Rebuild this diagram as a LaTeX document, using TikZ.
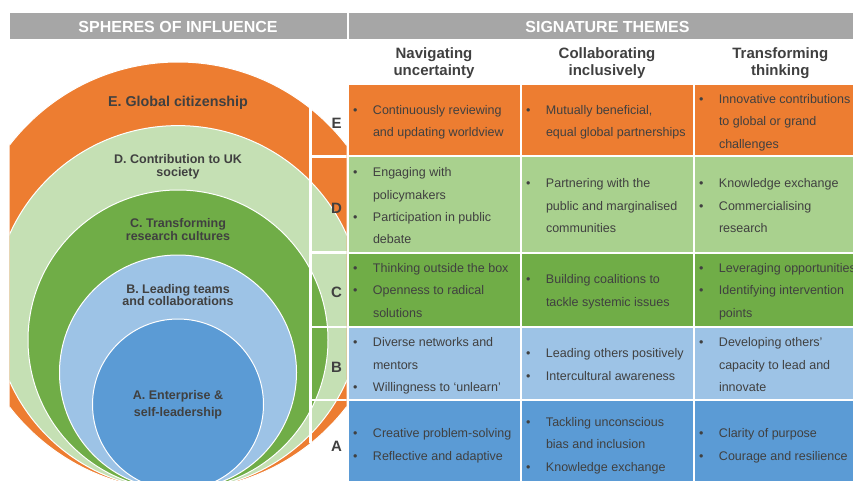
\documentclass[tikz,border=0pt]{standalone}
\usepackage{fontspec}
\setmainfont{Liberation Sans}
\definecolor{bargray}{HTML}{A6A6A6}
\definecolor{ink}{HTML}{404040}
\definecolor{sphereE}{HTML}{ED7D31}
\definecolor{sphereD}{HTML}{C5E0B4}
\definecolor{cellD}{HTML}{A9D18E}
\definecolor{sphereC}{HTML}{70AD47}
\definecolor{sphereB}{HTML}{9DC3E6}
\definecolor{sphereA}{HTML}{5B9BD5}
\newcommand{\bul}{\makebox[19.8pt][l]{\textbullet}}
\newcommand{\ind}{\hspace*{19.8pt}}
\begin{document}
\begin{tikzpicture}[x=1pt,y=-1pt,
    bartext/.style={text=white,font=\bfseries\fontsize{16}{19}\selectfont},
    sphere/.style={draw=white,line width=1pt},
    spherelabel/.style={text=ink,align=center,text depth=2.6pt,font=\bfseries\fontsize{12.5}{13}\selectfont},
    themehead/.style={text=ink,align=center,font=\bfseries\fontsize{15}{17.7}\selectfont},
    letter/.style={text=ink,font=\bfseries\fontsize{15}{18}\selectfont},
    entry/.style={anchor=west,inner sep=0pt,text depth=2.7pt,align=left,text=ink,font=\fontsize{12.5}{22.4}\selectfont},
    gridline/.style={white,line width=2.5pt}]
    \useasboundingbox (0,0) rectangle (853,481);
    \clip (0,0) rectangle (853,481);
    \fill[bargray] (9.5,13.5) rectangle (346.5,39.5);
    \fill[bargray] (348.5,13.5) rectangle (866,39.5);
    \node[bartext] (spheres) at (178,26.8) {SPHERES OF INFLUENCE};
    \node[bartext] (themes) at (607.5,26.8) {SIGNATURE THEMES};
    \begin{scope}
        \clip (9.5,0) rectangle (346.5,481);
        \filldraw[sphere,fill=sphereE] (178,276) ellipse [x radius=213pt,y radius=214pt];
        \filldraw[sphere,fill=sphereD] (178,307.8) ellipse [x radius=184pt,y radius=182.2pt];
        \filldraw[sphere,fill=sphereC] (178,340) circle [radius=150pt];
        \filldraw[sphere,fill=sphereB] (178,372.5) ellipse [x radius=118.5pt,y radius=117.5pt];
        \filldraw[sphere,fill=sphereA] (178,404.5) circle [radius=85.5pt];
        \draw[gridline] (310.5,85) -- (310.5,443);
        \draw[gridline] (310.5,156.5) -- (347,156.5);
        \draw[gridline] (310.5,252.5) -- (347,252.5);
        \draw[gridline] (310.5,327) -- (347,327);
        \draw[gridline] (310.5,400) -- (347,400);
    \end{scope}
    \node[spherelabel,font=\bfseries\fontsize{14.3}{15}\selectfont] (global) at (178,102.7) {E. Global citizenship};
    \node[spherelabel,font=\bfseries\fontsize{12.5}{13.3}\selectfont] (society) at (178,166.7) {D. Contribution to UK\\society};
    \node[spherelabel] (cultures) at (178,230.5) {C. Transforming\\research cultures};
    \node[spherelabel,font=\bfseries\fontsize{12.5}{12.4}\selectfont] (teams) at (178,296.2) {B. Leading teams\\and collaborations};
    \node[spherelabel,font=\bfseries\fontsize{12.5}{17.3}\selectfont] (enterprise) at (178,404.7) {A. Enterprise \&\\self-leadership};
    \node[letter] (letE) at (336.5,123.5) {E};
    \node[letter] (letD) at (336.5,208.7) {D};
    \node[letter] (letC) at (336.5,292.8) {C};
    \node[letter] (letB) at (336.5,367.2) {B};
    \node[letter] (letA) at (336.5,446.7) {A};
    \node[themehead] (navigating) at (434,63.2) {Navigating\\uncertainty};
    \node[themehead] (collaborating) at (607,63.2) {Collaborating\\inclusively};
    \node[themehead] (transforming) at (780.3,63.2) {Transforming\\thinking};
    \foreach \l/\r in {348.5/519.5,521.5/692.5,694.5/866}{
        \fill[sphereE] (\l,85) rectangle (\r,155.5);
        \fill[cellD] (\l,157.5) rectangle (\r,251.5);
        \fill[sphereC] (\l,253.5) rectangle (\r,326);
        \fill[sphereB] (\l,328) rectangle (\r,399);
        \fill[sphereA] (\l,401) rectangle (\r,490);
    }
    \node[entry] (navE) at (353,122.5) {\bul Continuously reviewing\\\ind and updating worldview};
    \node[entry] (colE) at (526,122.5) {\bul Mutually beneficial,\\\ind equal global partnerships};
    \node[entry] (traE) at (699,122.5) {\bul Innovative contributions\\\ind to global or grand\\\ind challenges};
    \node[entry] (navD) at (353,207.2) {\bul Engaging with\\\ind policymakers\\\bul Participation in public\\\ind debate};
    \node[entry] (colD) at (526,207.2) {\bul Partnering with the\\\ind public and marginalised\\\ind communities};
    \node[entry] (traD) at (699,207.2) {\bul Knowledge exchange\\\bul Commercialising\\\ind research};
    \node[entry] (navC) at (353,291.7) {\bul Thinking outside the box\\\bul Openness to radical\\\ind solutions};
    \node[entry] (colC) at (526,291.9) {\bul Building coalitions to\\\ind tackle systemic issues};
    \node[entry] (traC) at (699,291.7) {\bul Leveraging opportunities\\\bul Identifying intervention\\\ind points};
    \node[entry] (navB) at (353,365.9) {\bul Diverse networks and\\\ind mentors\\\bul Willingness to ‘unlearn’};
    \node[entry] (colB) at (526,365.9) {\bul Leading others positively\\\bul Intercultural awareness};
    \node[entry] (traB) at (699,365.9) {\bul Developing others’\\\ind capacity to lead and\\\ind innovate};
    \node[entry] (navA) at (353,446) {\bul Creative problem-solving\\\bul Reflective and adaptive};
    \node[entry] (colA) at (526,445.8) {\bul Tackling unconscious\\\ind bias and inclusion\\\bul Knowledge exchange};
    \node[entry] (traA) at (699,446) {\bul Clarity of purpose\\\bul Courage and resilience};
\end{tikzpicture}
\end{document}
